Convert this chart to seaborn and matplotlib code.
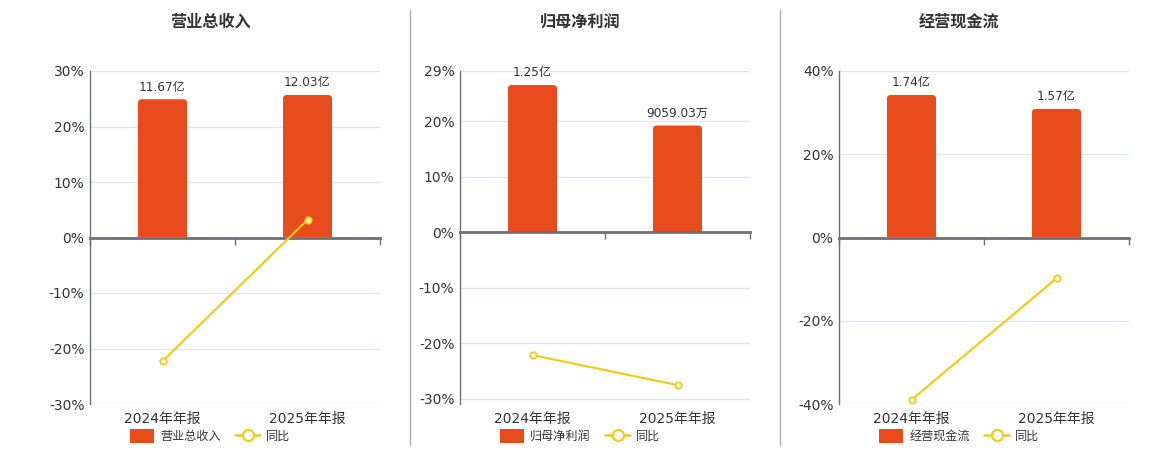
import numpy as np
import matplotlib
matplotlib.use("Agg")
import matplotlib.pyplot as plt
import seaborn as sns
from matplotlib.patches import FancyBboxPatch, Rectangle, Patch
from matplotlib.lines import Line2D

# ---------------- data ----------------
periods = ["2024年年报", "2025年年报"]
titles = ["营业总收入", "归母净利润", "经营现金流"]
revenue = [11.67, 12.03]          # 亿
revenue_yoy = [-22.3, 3.2]        # %
profit = [1.25, 0.905903]         # 亿
profit_yoy = [-22.1, -27.5]
cashflow = [1.74, 1.57]           # 亿
cashflow_yoy = [-39.0, -9.8]
pct_ticks = [[-30, -20, -10, 0, 10, 20, 30],
             [-30, -20, -10, 0, 10, 20, 29],
             [-40, -20, 0, 20, 40]]

bar_series = [revenue, profit, cashflow]
yoy_series = [revenue_yoy, profit_yoy, cashflow_yoy]

# ---------------- style ----------------
BAR = "#E84B1C"
YEL = "#F5CB19"
GRID = "#E0E6F1"
AXC = "#6E7079"
TXT = "#333333"
W, H = 1160, 450
lefts = [90, 460, 839]
ylims = [(-30, 30), (-30.9, 29), (-40, 40)]
bar_fill = [0.856, 0.913, 0.856]

sns.set_theme(style="white")
plt.rcParams["font.family"] = ["DejaVu Sans", "Noto Sans CJK SC"]

fig = plt.figure(figsize=(W / 100, H / 100), dpi=100)
fig.patch.set_facecolor("white")


def fmt_amount(v):
    if v >= 1:
        return f"{v:.2f}亿"
    return f"{v * 1e4:.2f}万"


def round_bars(axb, radius_px=4):
    pos = axb.get_position()
    wpx, hpx = pos.width * W, pos.height * H
    x0, x1 = axb.get_xlim()
    y0, y1 = axb.get_ylim()
    xu = (x1 - x0) / wpx
    yu = (y1 - y0) / hpx
    r = radius_px * xu
    asp = yu / xu
    for p in list(axb.patches):
        x, y = p.get_x(), p.get_y()
        w, h = p.get_width(), p.get_height()
        fb = FancyBboxPatch((x, y - radius_px * yu), w, h + radius_px * yu,
                            boxstyle=f"round,pad=0,rounding_size={r}",
                            mutation_aspect=asp, fc=p.get_facecolor(),
                            ec="none", lw=0)
        axb.add_patch(fb)
        clip = Rectangle((x, 0), w, h * 2, transform=axb.transData)
        fb.set_clip_path(clip)
        p.remove()


for i in range(3):
    l = lefts[i]
    lo, hi = ylims[i]
    ax = fig.add_axes([l / W, 1 - 404 / H, 290 / W, 333 / H])
    ax.set_ylim(lo, hi)
    ticks = pct_ticks[i]
    ax.set_yticks(ticks, [f"{t}%" for t in ticks])
    ax.grid(axis="y", color=GRID, lw=1)
    ax.grid(axis="x", visible=False)
    ax.set_axisbelow(True)
    for s in ["top", "right", "bottom"]:
        ax.spines[s].set_visible(False)
    ax.spines["left"].set_color(AXC)
    ax.spines["left"].set_linewidth(1)
    ax.tick_params(axis="y", length=0, pad=4, labelsize=10, labelcolor=TXT)

    axb = ax.twinx()
    axl = ax.twinx()

    bars = bar_series[i]
    sns.barplot(x=periods, y=bars, ax=axb, color=BAR, saturation=1,
                width=0.34, linewidth=0)
    top = max(bars) / bar_fill[i]
    axb.set_ylim(top * lo / hi, top)
    axb.set_yticks([])
    for s in axb.spines.values():
        s.set_visible(False)
    axb.bar_label(axb.containers[0], labels=[fmt_amount(v) for v in bars],
                  padding=4, fontsize=8.7, color=TXT)
    round_bars(axb)

    sns.pointplot(x=periods, y=yoy_series[i], ax=axl, color=YEL,
                  errorbar=None, markers="o", linestyles="-",
                  linewidth=1.6, markersize=4.5, markeredgewidth=1.4,
                  markerfacecolor="white", markeredgecolor=YEL)
    axl.set_ylim(lo, hi)
    axl.set_yticks([])
    axl.set_ylabel("")
    for s in axl.spines.values():
        s.set_visible(False)

    # zero axis line with boundary ticks
    frac = (0 - lo) / (hi - lo)
    sec = axl.secondary_xaxis(frac)
    sec.set_alignment("bottom")
    sec.set_xticks([-0.5, 0.5, 1.5], ["", "", ""])
    sec.spines["bottom"].set_color(AXC)
    sec.spines["bottom"].set_linewidth(2)
    sec.tick_params(axis="x", direction="out", length=5, width=1, color=AXC)

    ax.set_xlim(-0.5, 1.5)
    ax.set_xticks([0, 1], periods)
    ax.tick_params(axis="x", length=0, pad=6, labelsize=10, labelcolor=TXT)
    ax.set_xlabel("")
    axb.set_xlabel("")

    cx = (l + 145 - 25) / W
    fig.text(cx, 1 - 22 / H, titles[i], ha="center", va="center",
             fontsize=11.6, fontweight="bold", color=TXT)

    handles = [Patch(facecolor=BAR, edgecolor="none"),
               Line2D([], [], color=YEL, lw=1.8, marker="o", ms=8,
                      mfc="white", mec=YEL, mew=1.6)]
    fig.legend(handles, [titles[i], "同比"], loc="center",
               bbox_to_anchor=(cx, 1 - 436 / H), ncol=2, frameon=False,
               fontsize=8.7, handlelength=2.0, handleheight=1.4,
               columnspacing=1.2, handletextpad=0.5, labelcolor=TXT)

for xs in [410, 780]:
    fig.add_artist(Line2D([xs / W, xs / W], [1 - 10 / H, 1 - 445 / H],
                          color="#AAAAAA", lw=1))

fig.savefig("out.png", dpi=100, facecolor="white")
